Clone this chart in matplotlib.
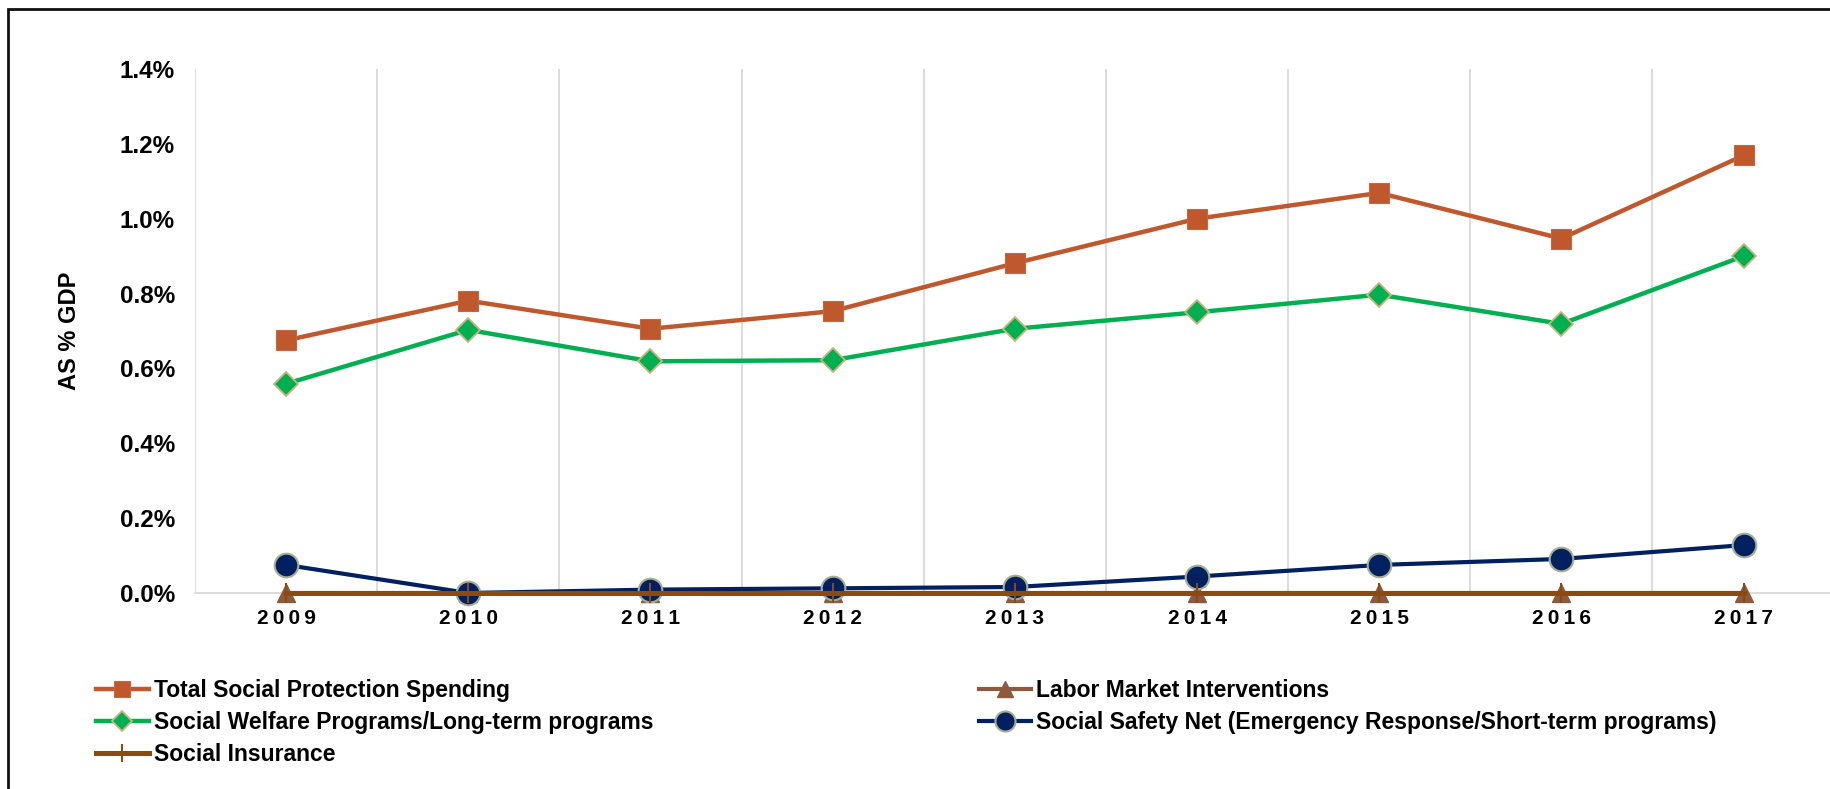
import matplotlib
matplotlib.use("Agg")
import matplotlib.pyplot as plt
from matplotlib.patches import Rectangle

plt.rcParams['font.family'] = ['Liberation Sans', 'DejaVu Sans']
plt.rcParams['font.weight'] = 'bold'

years = ['2009', '2010', '2011', '2012', '2013', '2014', '2015', '2016', '2017']
total = [0.675, 0.781, 0.706, 0.753, 0.881, 1.000, 1.069, 0.947, 1.169]
welfare = [0.559, 0.703, 0.619, 0.622, 0.706, 0.750, 0.797, 0.719, 0.900]
labor = [0, 0, 0, 0, 0, 0, 0, 0, 0]
safety = [0.075, 0.000, 0.009, 0.0125, 0.016, 0.044, 0.075, 0.091, 0.128]
insurance = [0, 0, 0, 0, 0, 0, 0, 0, 0]
yticks = [0.0, 0.2, 0.4, 0.6, 0.8, 1.0, 1.2, 1.4]

W, H = 1831, 789
fig = plt.figure(figsize=(W / 100, H / 100), dpi=100)
ax = fig.add_axes([195 / W, 1 - 593 / H, 1 - 195 / W + 0.002, (593 - 69) / H])

x = list(range(len(years)))
l1, = ax.plot(x, total, color='#C0582D', lw=3.2, marker='s', ms=14,
              mfc='#C0582D', mec='#C8663C', mew=0.8, clip_on=False, zorder=3,
              label='Total Social Protection Spending')
l2, = ax.plot(x, welfare, color='#00B050', lw=3.2, marker='D', ms=12.5,
              mfc='#00B050', mec='#C8B580', mew=1.3, clip_on=False, zorder=3,
              label='Social Welfare Programs/Long-term programs')
l3, = ax.plot(x, labor, color='#8C5A3C', lw=3.0, marker='^', ms=13,
              mfc='#8C5A3C', mec='#8C5A3C', clip_on=False, zorder=3,
              label='Labor Market Interventions')
l4, = ax.plot(x, safety, color='#002060', lw=3.0, marker='o', ms=17,
              mfc='#002060', mec='#A5AE92', mew=1.5, clip_on=False, zorder=4,
              label='Social Safety Net (Emergency Response/Short-term programs)')
l5, = ax.plot(x, insurance, color='#8B4A0F', lw=3.6, marker='|', ms=15, mew=1.5,
              mec='#8B4A0F', clip_on=False, zorder=5,
              label='Social Insurance')

ax.set_xlim(-0.5, len(years) - 0.5)
ax.set_ylim(0, 1.4)
ax.set_yticks(yticks)
ax.set_yticklabels([f'{v:.1f}%' for v in yticks], fontsize=17.5, fontweight='bold')
ax.set_xticks(x)
ax.set_xticklabels(['\u2009'.join(y) for y in years], fontsize=15, fontweight='bold')
ax.set_xticks([i - 0.5 for i in x], minor=True)
ax.tick_params(axis='both', which='both', length=0)
ax.tick_params(axis='y', pad=14.4)
ax.tick_params(axis='x', pad=11.5)
ax.grid(True, axis='x', which='minor', color='#D9D9D9', lw=1.3)
ax.grid(False, axis='x', which='major')
for s in ['top', 'right', 'left']:
    ax.spines[s].set_visible(False)
ax.spines['bottom'].set_color('#D9D9D9')
ax.spines['bottom'].set_linewidth(1.3)

ax.set_ylabel('AS % GDP', fontsize=17, fontweight='bold')
ax.yaxis.set_label_coords(-0.0695, 0.5)

handles = [l1, l2, l5, l3, l4]
leg = fig.legend(handles=handles, labels=[h.get_label() for h in handles],
                 ncol=2, loc='upper left', bbox_to_anchor=(96 / W, 1 - 679 / H),
                 frameon=False, prop={'weight': 'bold', 'size': 16.5},
                 handlelength=2.3, handletextpad=0.22, columnspacing=14.2,
                 labelspacing=0.4, borderpad=0, borderaxespad=0)
for h in leg.legend_handles:
    h.set_markersize(h.get_markersize() * 0.85)

fig.patches.append(Rectangle((8 / W, -0.1), 1.2, 1 - 9 / H + 0.1,
                             transform=fig.transFigure, fill=False,
                             edgecolor='#111111', lw=2.0))

fig.savefig('out.png', dpi=100)
